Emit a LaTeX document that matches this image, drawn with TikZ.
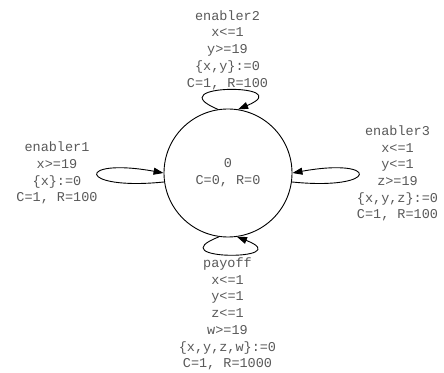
\documentclass[tikz,border=0pt]{standalone}
\usepackage{fontspec}
\setmonofont{Liberation Mono}
\usetikzlibrary{arrows.meta}
\begin{document}
\begin{tikzpicture}[x=1pt,y=1pt,
  lbl/.style={font=\ttfamily\fontsize{13.5}{16.7}\selectfont, text=black!65, align=center, inner sep=0pt},
  loopedge/.style={draw=black, line width=0.9pt, -{Triangle[length=10pt,width=7pt]}}]
\useasboundingbox (0,0) rectangle (444,372);
\node[circle, draw=black, line width=0.9pt, minimum size=128pt, inner sep=0pt, lbl] (s) at (228,199) {0\\C=0, R=0};
\node[lbl] (e2) at (227.5,322) {enabler2\\x<=1\\y>=19\\\{x,y\}:=0\\C=1, R=100};
\node[lbl] (e1) at (57,199) {enabler1\\x>=19\\\{x\}:=0\\C=1, R=100};
\node[lbl] (e3) at (397.5,198.5) {enabler3\\x<=1\\y<=1\\z>=19\\\{x,y,z\}:=0\\C=1, R=100};
\node[lbl] (po) at (227.5,58) {payoff\\x<=1\\y<=1\\z<=1\\w>=19\\\{x,y,z,w\}:=0\\C=1, R=1000};
\draw[loopedge] (s.99) .. controls +(-62,26) and +(62,26) .. (s.81);
\draw[loopedge] (s.188) .. controls +(-88,-9) and +(-88,16) .. (s.180);
\draw[loopedge] (s.-8) .. controls +(88,-9) and +(88,16) .. (s.0);
\draw[loopedge] (s.262) .. controls +(-62,-24) and +(62,-24) .. (s.278);
\end{tikzpicture}
\end{document}
